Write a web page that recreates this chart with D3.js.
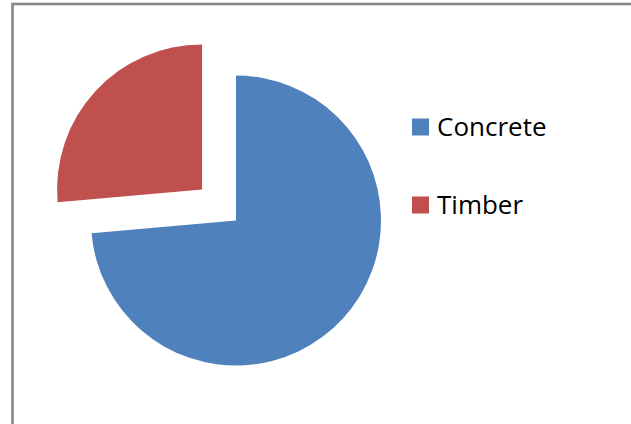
<!DOCTYPE html>
<html>
<head>
<meta charset="utf-8">
<script src="https://cdn.jsdelivr.net/npm/d3@7"></script>
<style>
  body { margin: 0; background: #fff; }
  svg { display: block; }
</style>
</head>
<body>
<div id="vis"></div>
<script>
// data
let categories = ["Concrete", "Timber"];
let values = [73.6, 26.4];
let colors = ["#4F81BD", "#C0504D"];
let exploded = ["Timber"];

let width = 631;
let height = 424;
let center = {x: 236, y: 220.5};
let radius = 145;
let explodeDist = 46;

let svg = d3.select("#vis")
  .append("svg")
  .attr("width", width)
  .attr("height", height);

// chart frame (only left and top edges are inside the window)
svg.append("rect")
  .attr("x", 12.5)
  .attr("y", 4)
  .attr("width", width + 20)
  .attr("height", height + 20)
  .attr("fill", "none")
  .attr("stroke", "#888")
  .attr("stroke-width", 2.6);

let data = categories.map((c, i) => ({name: c, value: values[i], color: colors[i]}));

let pie = d3.pie()
  .sort(null)
  .value(d => d.value);

let arc = d3.arc()
  .innerRadius(0)
  .outerRadius(radius);

let pieGroup = svg.append("g")
  .attr("transform", "translate(" + center.x + "," + center.y + ")");

pieGroup.selectAll("path")
  .data(pie(data))
  .join("path")
  .attr("d", arc)
  .attr("fill", d => d.data.color)
  .attr("transform", d => {
    if(exploded.indexOf(d.data.name) == -1) return null;
    let a = (d.startAngle + d.endAngle) / 2;
    let dx = Math.sin(a) * explodeDist;
    let dy = -Math.cos(a) * explodeDist;
    return "translate(" + dx + "," + dy + ")";
  });

// legend
let legendY = d3.scalePoint()
  .domain(categories)
  .range([127, 205]);

let legend = svg.append("g")
  .attr("class", "legend");

let items = legend.selectAll("g")
  .data(data)
  .join("g")
  .attr("transform", d => "translate(412," + legendY(d.name) + ")");

items.append("rect")
  .attr("x", 0)
  .attr("y", -8.5)
  .attr("width", 17)
  .attr("height", 17)
  .attr("fill", d => d.color);

items.append("text")
  .attr("x", 25)
  .attr("y", 9)
  .attr("font-family", "Open Sans, sans-serif")
  .attr("font-size", 26)
  .attr("fill", "#000")
  .text(d => d.name);
</script>
</body>
</html>
